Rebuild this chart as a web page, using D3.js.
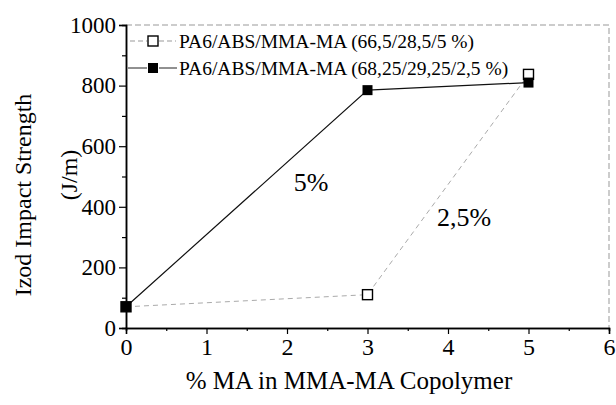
<!DOCTYPE html>
<html>
<head>
<meta charset="utf-8">
<script src="https://cdn.jsdelivr.net/npm/d3@7"></script>
<style>
  html, body { margin: 0; padding: 0; background: #fff; }
  svg text { font-family: "Liberation Serif", "Tinos", "Times New Roman", "DejaVu Serif", serif; }
</style>
</head>
<body>
<svg id="chart" width="616" height="405"></svg>
<script>
// MA content of the MMA-MA copolymer (%)
const maContent = [0, 3, 5];
// Izod impact strength (J/m) for each blend
const blendOpenName = "PA6/ABS/MMA-MA (66,5/28,5/5 %)";
const blendOpenValues = [70, 110, 837];
const blendFilledName = "PA6/ABS/MMA-MA (68,25/29,25/2,5 %)";
const blendFilledValues = [70, 785, 810];
// Axis ticks
const xTicks = [0, 1, 2, 3, 4, 5, 6];
const xMinorTicks = [0.5, 1.5, 2.5, 3.5, 4.5, 5.5];
const yTicks = [0, 200, 400, 600, 800, 1000];
const yMinorTicks = [100, 300, 500, 700, 900];
// Line annotations
const notes = [
  { text: "5%", x: 2.3, y: 480 },
  { text: "2,5%", x: 4.2, y: 365 }
];

const FONT = '"Liberation Serif", "Tinos", "Times New Roman", "DejaVu Serif", serif';
const svg = d3.select("#chart");
const x = d3.scaleLinear().domain([0, 6]).range([126, 609]);
const y = d3.scaleLinear().domain([0, 1000]).range([328, 25]);

// Frame: top and right edges are faint dashed
svg.append("path")
  .attr("d", `M${x(0)},${y(1000)}H${x(6)}V${y(0)}`)
  .attr("fill", "none").attr("stroke", "#999").attr("stroke-width", 1)
  .attr("stroke-dasharray", "6,3");

// Axes
const gx = svg.append("g").attr("transform", `translate(0,${y(0)})`);
gx.call(d3.axisBottom(x).tickValues(xMinorTicks).tickSize(3).tickFormat(""));
gx.call(g => g.append("g").call(d3.axisBottom(x).tickValues(xTicks).tickSize(6).tickPadding(4).tickFormat(d3.format("d"))));
gx.selectAll(".domain").attr("stroke-width", 1.5);
gx.selectAll("line").attr("stroke-width", 1.2);
gx.selectAll("g").attr("font-family", null);
gx.attr("font-family", null);
gx.selectAll("text").attr("font-size", 24).style("font-family", FONT).attr("fill", "#000");

const gy = svg.append("g").attr("transform", `translate(${x(0)},0)`);
gy.call(d3.axisLeft(y).tickValues(yMinorTicks).tickSize(4).tickFormat(""));
gy.call(g => g.append("g").call(d3.axisLeft(y).tickValues(yTicks).tickSize(7).tickPadding(3).tickFormat(d3.format("d"))));
gy.selectAll(".domain").attr("stroke-width", 1.5);
gy.selectAll("line").attr("stroke-width", 1.2);
gy.attr("font-family", null);
gy.selectAll("text").attr("font-size", 23).style("font-family", FONT).attr("fill", "#000");

// Axis titles
svg.append("text")
  .attr("x", 349).attr("y", 389)
  .attr("text-anchor", "middle").attr("font-size", 25)
  .text("% MA in MMA-MA Copolymer");

svg.append("text")
  .attr("transform", "translate(31,195) rotate(-90)")
  .attr("text-anchor", "middle").attr("font-size", 24)
  .text("Izod Impact Strength");
svg.append("text")
  .attr("transform", "translate(77,175) rotate(-90)")
  .attr("text-anchor", "middle").attr("font-size", 24)
  .text("(J/m)");

const pts = vals => maContent.map((m, i) => [x(m), y(vals[i])]);
const line = d3.line();

// Open-square series: faint dashed line
svg.append("path")
  .attr("d", line(pts(blendOpenValues)))
  .attr("fill", "none").attr("stroke", "#aaa").attr("stroke-width", 1)
  .attr("stroke-dasharray", "5,4");
// Filled-square series: solid line
svg.append("path")
  .attr("d", line(pts(blendFilledValues)))
  .attr("fill", "none").attr("stroke", "#111").attr("stroke-width", 1.2);

const S = 10;
svg.append("g").selectAll("rect")
  .data(pts(blendOpenValues)).join("rect")
  .attr("x", d => d[0] - S / 2).attr("y", d => d[1] - S / 2)
  .attr("width", S).attr("height", S)
  .attr("fill", "#fff").attr("stroke", "#000").attr("stroke-width", 1.4);
svg.append("g").selectAll("rect")
  .data(pts(blendFilledValues)).join("rect")
  .attr("x", d => d[0] - S / 2).attr("y", d => d[1] - S / 2)
  .attr("width", S).attr("height", S)
  .attr("fill", "#000");

// Legend
const lg = svg.append("g");
const lx = 153;
lg.append("path").attr("d", `M130,41H147M159,41H176`)
  .attr("stroke", "#999").attr("stroke-width", 1).attr("stroke-dasharray", "5,3");
lg.append("rect").attr("x", lx - S / 2).attr("y", 41 - S / 2).attr("width", S).attr("height", S)
  .attr("fill", "#fff").attr("stroke", "#000").attr("stroke-width", 1.4);
lg.append("text").attr("x", 179).attr("y", 47.5).attr("font-size", 19.5).text(blendOpenName);
lg.append("path").attr("d", `M128,68H147M159,68H177`)
  .attr("stroke", "#222").attr("stroke-width", 1);
lg.append("rect").attr("x", lx - S / 2).attr("y", 68 - S / 2).attr("width", S).attr("height", S)
  .attr("fill", "#000");
lg.append("text").attr("x", 179).attr("y", 74.5).attr("font-size", 19.5).text(blendFilledName);

// Annotations
svg.append("g").selectAll("text")
  .data(notes).join("text")
  .attr("x", d => x(d.x)).attr("y", d => y(d.y))
  .attr("text-anchor", "middle").attr("dominant-baseline", "central")
  .attr("font-size", 26)
  .text(d => d.text);
</script>
</body>
</html>
